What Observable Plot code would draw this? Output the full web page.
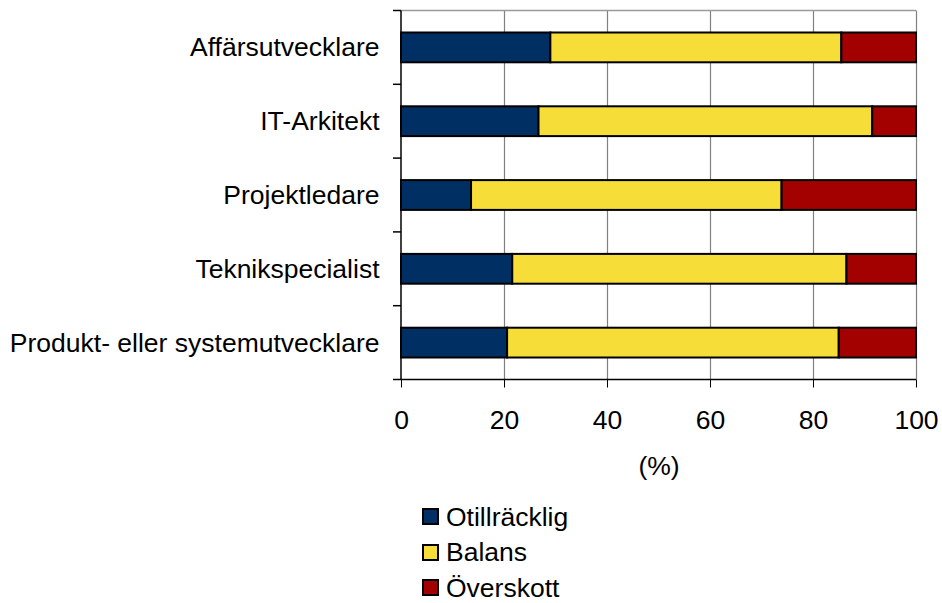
<!DOCTYPE html>
<html><head><meta charset="utf-8">
<script src="https://cdn.jsdelivr.net/npm/d3@7"></script>
<script src="https://cdn.jsdelivr.net/npm/@observablehq/plot@0.6"></script>
<style>
html,body{margin:0;padding:0;background:#fff;}
body{font-family:"Liberation Sans",Arial,sans-serif;position:relative;width:942px;height:603px;overflow:hidden;}
#chart svg{display:block;}
#legend{position:absolute;left:422px;top:499px;font-size:26.5px;color:#000;line-height:1;}
.item{display:flex;align-items:center;height:35.5px;}
.sw{width:13px;height:13px;border:2px solid #000;margin-right:7px;box-sizing:content-box;}
</style></head><body>
<div id="chart"></div>
<div id="legend"></div>
<script>
const categories = ["Affärsutvecklare","IT-Arkitekt","Projektledare","Teknikspecialist","Produkt- eller systemutvecklare"];
const series = ["Otillräcklig","Balans","Överskott"];
const otillracklig = [29.0, 26.7, 13.6, 21.6, 20.6];
const balans = [56.5, 64.8, 60.3, 64.9, 64.4];
const overskott = [14.5, 8.5, 26.1, 13.5, 15.0];
const seriesColors = ["#003063", "#F6DD37", "#A30000"];
const xTicks = [0, 20, 40, 60, 80, 100];
const xLabel = "(%)";

const seriesValues = [otillracklig, balans, overskott];
const rows = [];
series.forEach((s, j) => categories.forEach((c, i) => rows.push({cat: c, s, v: seriesValues[j][i]})));

const frameMark = (index, scales) => {
  const x = scales.x, y = scales.y;
  const step = y(categories[1]) - y(categories[0]);
  const b0 = y(categories[0]);
  const bounds = d3.range(categories.length + 1).map(i => b0 + i * step);
  const x0 = x(0), x1 = x(100), yb = bounds[bounds.length - 1];
  const g = d3.create("svg:g");
  g.append("line").attr("x1", x0).attr("x2", x1).attr("y1", b0).attr("y2", b0)
    .attr("stroke", "#9a9a9a").attr("stroke-width", 1.5);
  g.append("line").attr("x1", x0).attr("x2", x0).attr("y1", b0).attr("y2", yb)
    .attr("stroke", "#000").attr("stroke-width", 1.5);
  g.append("line").attr("x1", x0).attr("x2", x1).attr("y1", yb).attr("y2", yb)
    .attr("stroke", "#000").attr("stroke-width", 1.5);
  bounds.forEach(b => g.append("line").attr("x1", x0 - 8).attr("x2", x0).attr("y1", b).attr("y2", b)
    .attr("stroke", "#000").attr("stroke-width", 1.5));
  return g.node();
};

const chart = Plot.plot({
  width: 942,
  height: 495,
  marginLeft: 401,
  marginRight: 26,
  marginTop: 10.5,
  marginBottom: 115.5,
  style: {fontFamily: "'Liberation Sans', Arial, sans-serif", fontSize: "26.5px", color: "#000", background: "#fff"},
  x: {domain: [0, 100], ticks: xTicks},
  y: {domain: categories, padding: 0, round: false},
  color: {domain: series, range: seriesColors},
  marks: [
    Plot.gridX(xTicks.slice(1), {stroke: "#808080", strokeOpacity: 1, strokeWidth: 1.2}),
    Plot.barX(rows, Plot.stackX({x: "v", y: "cat", fill: "s", order: series, stroke: "#000", strokeWidth: 2, insetTop: 22, insetBottom: 22})),
    frameMark,
    Plot.axisX({ticks: xTicks, tickSize: 8, tickPadding: 22, fontSize: 26.5, label: null, stroke: "#000"}),
    Plot.axisY({tickSize: 0, tickPadding: 22, fontSize: 26.5, label: null}),
    Plot.text([xLabel], {frameAnchor: "bottom", lineAnchor: "middle", dy: 87, fontSize: 26.5, fill: "#000"})
  ]
});
document.getElementById("chart").appendChild(chart);

const legend = document.getElementById("legend");
series.forEach((s, j) => {
  const item = document.createElement("div");
  item.className = "item";
  const sw = document.createElement("span");
  sw.className = "sw";
  sw.style.background = seriesColors[j];
  const t = document.createElement("span");
  t.textContent = s;
  item.appendChild(sw); item.appendChild(t);
  legend.appendChild(item);
});
</script>
</body></html>
